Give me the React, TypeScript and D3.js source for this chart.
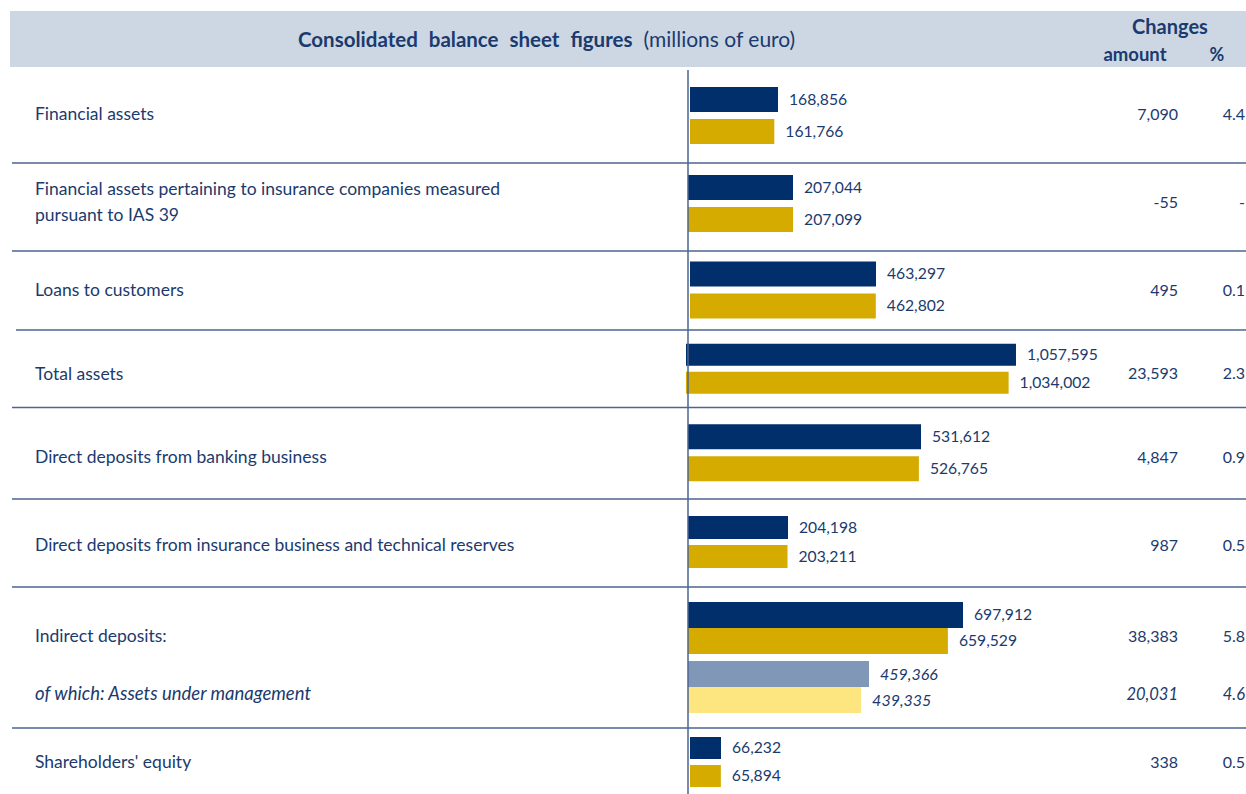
import React from 'react';
import * as d3 from 'd3';

// Rows of the table (label lines)
const categories: string[][] = [
  ['Financial assets'],
  ['Financial assets pertaining to insurance companies measured', 'pursuant to IAS 39'],
  ['Loans to customers'],
  ['Total assets'],
  ['Direct deposits from banking business'],
  ['Direct deposits from insurance business and technical reserves'],
  ['Indirect deposits:'],
  ["Shareholders' equity"],
];

const currentValues = [168856, 207044, 463297, 1057595, 531612, 204198, 697912, 66232];
const previousValues = [161766, 207099, 462802, 1034002, 526765, 203211, 659529, 65894];
const changeAmounts = [7090, -55, 495, 23593, 4847, 987, 38383, 338];
const changePercents: (number | null)[] = [4.4, null, 0.1, 2.3, 0.9, 0.5, 5.8, 0.5];

// each row was its own small chart, with its own axis maximum
const rowAxisMax = [767500, 788700, 996300, 1282000, 912600, 816800, 1015100, 854600];

// "of which" sub-row of Indirect deposits
const subLabel = 'of which: Assets under management';
const subCurrent = 459366;
const subPrevious = 439335;
const subChangeAmount = 20031;
const subChangePercent = 4.6;

const W = 1246;
const H = 794;
const NAVY = '#002f6c';
const GOLD = '#d5ab00';
const LIGHT_BLUE = '#8097b8';
const LIGHT_YELLOW = '#fde680';
const TEXT = '#1b3a6e';
const LINE = '#4d6591';
const FONT = 'Lato, "Open Sans", sans-serif';

// layout
const rowEdges = [70, 163, 251, 330, 407.5, 499, 587, 728, 794];
const barShift = [-1, -3.5, -0.5, 0, -0.5, -1, 0, 1];
const labelShift = [-2.5, -5, -0.5, 5, 4, 2, 0, 1];
const barStartShift = [2, 0, 2, -2, 0, 0, 0, 2];
const barX0 = 688;
const barRange = 400;

const fmt = d3.formatLocale({ decimal: '.', thousands: ',', grouping: [3], currency: ['', ''], minus: '-' }).format(',');

const App: React.FC = () => {
  const rows = categories.map((lines, i) => {
    const top = rowEdges[i];
    const bottom = rowEdges[i + 1];
    const mid = (top + bottom) / 2;
    const cy = mid + barShift[i];
    const ly = mid + labelShift[i];
    const x0 = barX0 + barStartShift[i];
    const x = d3.scaleLinear().domain([0, rowAxisMax[i]]).range([x0, x0 + barRange]);
    const hasSub = i === 6;
    const bars: { v: number; color: string; italic: boolean }[] = [
      { v: currentValues[i], color: NAVY, italic: false },
      { v: previousValues[i], color: GOLD, italic: false },
    ];
    if (hasSub) {
      bars.push({ v: subCurrent, color: LIGHT_BLUE, italic: true });
      bars.push({ v: subPrevious, color: LIGHT_YELLOW, italic: true });
    }
    const barH = hasSub ? 26 : i === 3 || i === 7 ? 22 : i === 5 ? 23 : 25;
    const gap = hasSub ? 0 : i === 3 || i === 5 || i === 7 ? 6 : 7;
    const pairGap = 7;
    const total = hasSub ? 4 * barH + pairGap : 2 * barH + gap;
    const start = cy - total / 2;
    const ys = bars.map((_, j) => start + j * (barH + gap) + (j >= 2 ? pairGap : 0));
    const textYs = hasSub ? [start + barH + 8, start + 3 * barH + pairGap + 7] : [ly];
    return { i, lines, x, bars, barH, ys, hasSub, textYs };
  });

  return (
    <svg
      width={W}
      height={H}
      viewBox={`0 0 ${W} ${H}`}
      style={{ position: 'absolute', left: 0, top: 0, background: '#fff' }}
      fontFamily={FONT}
    >
      {/* header band */}
      <rect x={10} y={11} width={W - 10} height={56} fill="#ccd7e3" />
      <text x={298} y={41} dy="0.35em" fill={TEXT}>
        <tspan fontWeight="bold" fontSize={20.5} wordSpacing={6}>Consolidated balance sheet figures</tspan>
        <tspan dx={11} fontSize={21}>(millions of euro)</tspan>
      </text>
      <text x={1170} y={27} dy="0.35em" textAnchor="middle" fill={TEXT} fontSize={20} fontWeight="bold">
        Changes
      </text>
      <text x={1135} y={55} dy="0.35em" textAnchor="middle" fill={TEXT} fontSize={18.5} fontWeight="bold">
        amount
      </text>
      <text x={1217} y={55} dy="0.35em" textAnchor="middle" fill={TEXT} fontSize={18} fontWeight="bold">
        %
      </text>

      {/* row separators */}
      {rowEdges.slice(1, -1).map((y, k) => (
        <line key={k} x1={k === 2 ? 16 : 12} x2={W} y1={y} y2={y} stroke={LINE} strokeWidth={1.5} />
      ))}

      {rows.map((r) => (
        <g key={r.i}>
          {r.lines.map((ln, k) => (
            <text
              key={k}
              x={35}
              y={r.textYs[0] + (k - (r.lines.length - 1) / 2) * 26}
              dy="0.35em"
              fill={TEXT}
              fontSize={17.5}
            >
              {ln}
            </text>
          ))}
          {r.hasSub && (
            <text x={35} y={r.textYs[1]} dy="0.35em" fill={TEXT} fontSize={18.5} fontStyle="italic">
              {subLabel}
            </text>
          )}
          {r.bars.map((b, j) => (
            <g key={j}>
              <rect x={r.x(0)} y={r.ys[j]} width={r.x(b.v) - r.x(0)} height={r.barH} fill={b.color} />
              <text
                x={r.x(b.v) + 11}
                y={r.ys[j] + r.barH / 2}
                dy="0.35em"
                fill={TEXT}
                fontSize={b.italic ? 16 : 15.7}
                fontStyle={b.italic ? 'italic' : 'normal'}
              >
                {fmt(b.v)}
              </text>
            </g>
          ))}
          <text x={1178} y={r.textYs[0]} dy="0.35em" textAnchor="end" fill={TEXT} fontSize={16}>
            {fmt(changeAmounts[r.i])}
          </text>
          <text x={1245} y={r.textYs[0]} dy="0.35em" textAnchor="end" fill={TEXT} fontSize={16}>
            {changePercents[r.i] === null ? '-' : (changePercents[r.i] as number).toFixed(1)}
          </text>
          {r.hasSub && (
            <>
              <text x={1178} y={r.textYs[1]} dy="0.35em" textAnchor="end" fill={TEXT} fontSize={16.5} fontStyle="italic">
                {fmt(subChangeAmount)}
              </text>
              <text x={1245} y={r.textYs[1]} dy="0.35em" textAnchor="end" fill={TEXT} fontSize={16.5} fontStyle="italic">
                {subChangePercent.toFixed(1)}
              </text>
            </>
          )}
        </g>
      ))}

      {/* axis */}
      <line x1={barX0} x2={barX0} y1={70} y2={H} stroke={LINE} strokeWidth={1.5} />
    </svg>
  );
};

export default App;
